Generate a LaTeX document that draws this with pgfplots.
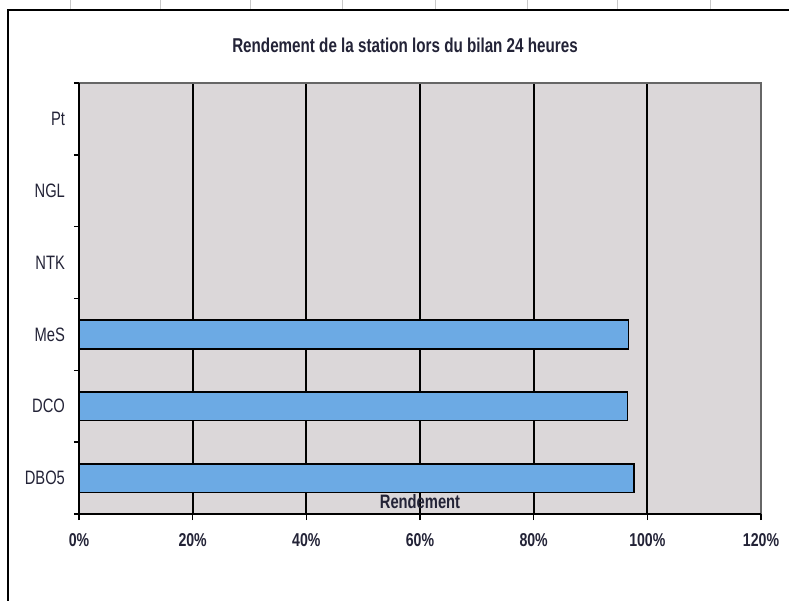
\documentclass[border=0pt]{standalone}
\usepackage{pgfplots}
\pgfplotsset{compat=1.18}
\usepackage{fontspec}
\setmainfont{Liberation Sans}[FakeStretch=0.76]

\definecolor{plotgray}{RGB}{219,215,217}
\definecolor{barblue}{RGB}{108,170,228}
\definecolor{inkdark}{RGB}{35,35,55}
\definecolor{sheetline}{RGB}{200,200,200}

\begin{document}
\begin{tikzpicture}
\useasboundingbox (0,0) rectangle (394.5pt,300.5pt);
\fill[white] (0,0) rectangle (394.5pt,300.5pt);
% spreadsheet cells behind the chart
\foreach \x in {70,160,250,342,435,527,617,710}
  \draw[sheetline] (\x*0.5pt,295.5pt) -- (\x*0.5pt,300.5pt);
% chart frame
\draw[line width=1pt] (4pt,-5pt) -- (4pt,295.5pt) -- (400pt,295.5pt);

\node[font=\bfseries\fontsize{10}{12}\selectfont, text=inkdark] at (202.5pt,278pt)
  {Rendement de la station lors du bilan 24 heures};

\begin{axis}[
  at={(39.5pt,43.5pt)}, anchor=south west,
  scale only axis,
  width=341pt, height=215.5pt,
  xbar, bar width=0.4,
  xmin=0, xmax=120,
  ymin=-0.5, ymax=5.5,
  xtick={0,20,40,60,80,100,120},
  xticklabels={0\%,20\%,40\%,60\%,80\%,100\%,120\%},
  ytick={0,1,2,3,4,5},
  yticklabels={DBO5,DCO,MeS,NTK,NGL,Pt},
  minor ytick={-0.5,0.5,1.5,2.5,3.5,4.5,5.5},
  major tick length=0pt,
  minor tick length=2.5pt,
  tick align=outside,
  minor tick style={black, line width=0.8pt},
  xmajorgrids=true,
  grid style={black, line width=0.85pt},
  axis line style={draw=none},
  axis background/.style={fill=plotgray},
  ytick pos=left, xtick pos=bottom,
  yticklabel style={font=\fontsize{9.7}{11}\selectfont, text=inkdark, xshift=-3.5pt},
  xticklabel style={font=\bfseries\fontsize{9.3}{11}\selectfont, text=inkdark, yshift=-6pt},
  extra x ticks={0,20,40,60,80,100,120},
  extra x tick labels={},
  extra x tick style={major tick length=3pt, tick style={black, line width=0.8pt}, grid=none},
  clip=false,
]
\draw[gray!80!black, line width=0.6pt] (rel axis cs:0,1) -- (rel axis cs:1,1) -- (rel axis cs:1,0);
\draw[black, line width=0.9pt] (rel axis cs:0,1) -- (rel axis cs:0,0) -- (rel axis cs:1,0);
\addplot[draw=black, line width=0.8pt, fill=barblue] coordinates {
  (97.7,0)
  (96.5,1)
  (96.7,2)
};
\node[font=\bfseries\fontsize{9.7}{11}\selectfont, text=inkdark] at (rel axis cs:0.5,0.028) {Rendement};
\end{axis}
\end{tikzpicture}
\end{document}
